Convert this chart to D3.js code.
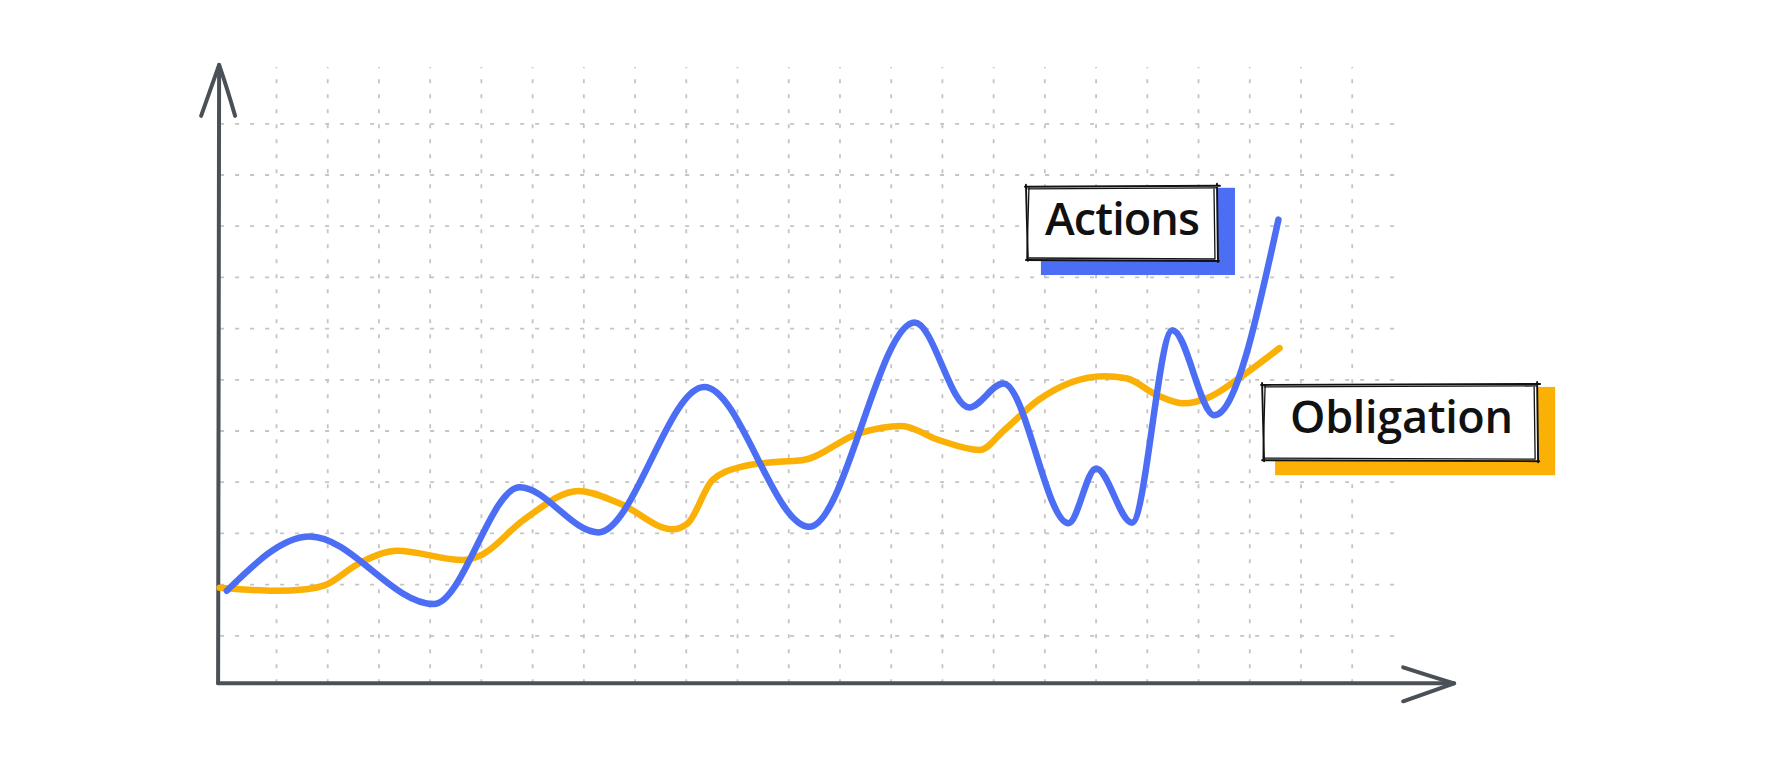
<!DOCTYPE html>
<html>
<head>
<meta charset="utf-8">
<script src="https://cdn.jsdelivr.net/npm/d3@7"></script>
<style>
  html, body { margin: 0; padding: 0; background: #ffffff; overflow: hidden; }
</style>
</head>
<body>
<svg id="chart" width="1774" height="766"></svg>
<script>
// ---------- data (grid units) ----------
const actionsX = [0.04, 1.66, 4.08, 5.76, 7.29, 9.36, 11.41, 13.47, 14.53, 15.20, 16.47, 17.01, 17.71, 18.50, 19.32, 20.57];
const actionsY = [1.87, 2.93, 1.61, 3.89, 3.01, 5.85, 3.12, 7.11, 5.45, 5.92, 3.19, 4.26, 3.20, 6.96, 5.30, 9.12];

const obligationX = [-0.10, 0.99, 1.59, 1.96, 2.63, 3.37, 4.64, 5.01, 5.83, 6.91, 7.70, 8.74, 9.04, 9.52, 10.08, 10.81, 11.27, 12.39, 13.21, 13.95, 14.74, 15.22, 15.89, 17.16, 17.60, 18.20, 18.72, 19.24, 19.84, 20.59];
const obligationY = [1.93, 1.87, 1.90, 1.98, 2.41, 2.65, 2.47, 2.57, 3.25, 3.82, 3.58, 3.07, 3.19, 4.03, 4.29, 4.39, 4.42, 4.95, 5.09, 4.81, 4.62, 5.01, 5.60, 6.06, 6.02, 5.69, 5.53, 5.66, 6.05, 6.61];

const seriesNames = ["Actions", "Obligation"];
const gridXTicks = d3.range(1, 23);   // vertical grid lines
const gridYTicks = d3.range(1, 12);   // horizontal grid lines

// ---------- layout ----------
const W = 1774, H = 766;
const x = d3.scaleLinear().domain([1, 22]).range([276, 1351.7]);
const y = d3.scaleLinear().domain([1, 11]).range([635.3, 123.3]);
const axisX0 = -0.13, axisY0 = 0.0625;   // where the axes sit
const axisXEnd = 24.0, axisYEnd = 12.14; // arrow tips
const gridXEnd = 22.98, gridYEnd = 12.1;

const colors = { Actions: "#4c6ef5", Obligation: "#fab005" };
const axisColor = "#495057";

const svg = d3.select("#chart");
svg.append("rect").attr("width", W).attr("height", H).attr("fill", "#ffffff");

// ---------- grid via axes ----------
const gridV = svg.append("g")
  .attr("transform", `translate(0,${y(axisY0)})`)
  .call(d3.axisBottom(x).tickValues(gridXTicks).tickFormat("")
        .tickSizeOuter(0).tickSizeInner(-(y(axisY0) - y(gridYEnd))));
const gridH = svg.append("g")
  .attr("transform", `translate(${x(axisX0)},0)`)
  .call(d3.axisLeft(y).tickValues(gridYTicks).tickFormat("")
        .tickSizeOuter(0).tickSizeInner(-(x(gridXEnd) - x(axisX0))));
[gridV, gridH].forEach(g => {
  g.select(".domain").remove();
  g.selectAll(".tick line")
    .attr("stroke", "#c4c4c4")
    .attr("stroke-width", 1.8)
    .attr("stroke-dasharray", "4 11");
});
gridH.selectAll(".tick line").attr("x1", 2);

// ---------- axes with arrows ----------
const ax = svg.append("g")
  .attr("fill", "none")
  .attr("stroke", axisColor)
  .attr("stroke-width", 4)
  .attr("stroke-linecap", "round")
  .attr("stroke-linejoin", "round");
const ox = x(axisX0), oy = y(axisY0);
const tipY = y(axisYEnd), tipX = x(axisXEnd);
ax.append("path").attr("d", `M${ox},${oy} L${ox + 1},${tipY}`);
ax.append("path").attr("d", `M${ox - 17},${tipY + 51} Q${ox - 6},${tipY + 20} ${ox + 1},${tipY} Q${ox + 8},${tipY + 20} ${ox + 17},${tipY + 51}`);
ax.append("path").attr("d", `M${ox},${oy} L${tipX},${oy}`);
ax.append("path").attr("d", `M${tipX - 51},${oy - 16} Q${tipX - 20},${oy - 6} ${tipX},${oy} Q${tipX - 20},${oy + 7} ${tipX - 51},${oy + 18}`);

// ---------- lines ----------
const line = d3.line()
  .x(d => x(d[0]))
  .y(d => y(d[1]))
  .curve(d3.curveMonotoneX);

const series = [
  { name: "Obligation", pts: d3.zip(obligationX, obligationY) },
  { name: "Actions", pts: d3.zip(actionsX, actionsY) }
];
svg.append("g").selectAll("path.series")
  .data(series)
  .join("path")
  .attr("class", "series")
  .attr("d", d => line(d.pts))
  .attr("fill", "none")
  .attr("stroke", d => colors[d.name])
  .attr("stroke-width", 6.5)
  .attr("stroke-linecap", "round")
  .attr("stroke-linejoin", "round");

// ---------- labels (positions in grid units) ----------
const labels = [
  { name: "Actions", x0: 15.66, x1: 19.37, yTop: 9.76, yBot: 8.33,
    sh: [14, 1, 18, 15], tx: 18, ty: 48, tw: 155 },
  { name: "Obligation", x0: 20.27, x1: 25.62, yTop: 5.89, yBot: 4.42,
    sh: [12, 2, 18, 15], tx: 27, ty: 48, tw: 223 }
];

function sketchRect(g, x0, y0, x1, y1) {
  const p1 = `M${x0 - 1},${y0 - 2} L${x0 + 1},${y1 + 1} M${x0 - 2},${y0} L${x1 + 3},${y0 - 1}` +
             ` M${x1},${y0 - 3} L${x1 + 1},${y1 + 2} M${x0 - 1},${y1} L${x1 + 2},${y1 + 1}`;
  const p2 = `M${x0 + 2},${y0 + 1} L${x0},${y1 - 1} M${x0 + 1},${y0 + 2} L${x1 - 1},${y0 + 1}` +
             ` M${x1 - 3},${y0 + 1} L${x1 - 2},${y1 - 1} M${x0 + 2},${y1 - 2} L${x1 - 2},${y1 - 1}`;
  g.append("path").attr("d", p1).attr("fill", "none").attr("stroke", "#111").attr("stroke-width", 1.9).attr("stroke-linecap", "round");
  g.append("path").attr("d", p2).attr("fill", "none").attr("stroke", "#111").attr("stroke-width", 1.3).attr("stroke-linecap", "round");
}

labels.forEach(l => {
  const g = svg.append("g");
  const bx0 = x(l.x0), bx1 = x(l.x1), by0 = y(l.yTop), by1 = y(l.yBot);
  g.append("rect")
    .attr("x", bx0 + l.sh[0]).attr("y", by0 + l.sh[1])
    .attr("width", (bx1 + l.sh[2]) - (bx0 + l.sh[0]))
    .attr("height", (by1 + l.sh[3]) - (by0 + l.sh[1]))
    .attr("fill", colors[l.name]);
  g.append("rect")
    .attr("x", bx0).attr("y", by0)
    .attr("width", bx1 - bx0).attr("height", by1 - by0)
    .attr("fill", "#ffffff");
  sketchRect(g, bx0, by0, bx1, by1);
  g.append("text")
    .attr("x", bx0 + l.tx).attr("y", by0 + l.ty)
    .attr("font-family", "'Open Sans', sans-serif")
    .attr("font-size", 45)
    .attr("font-weight", 600)
    .attr("fill", "#111")
    .attr("textLength", l.tw)
    .attr("lengthAdjust", "spacing")
    .text(l.name);
});
</script>
</body>
</html>
